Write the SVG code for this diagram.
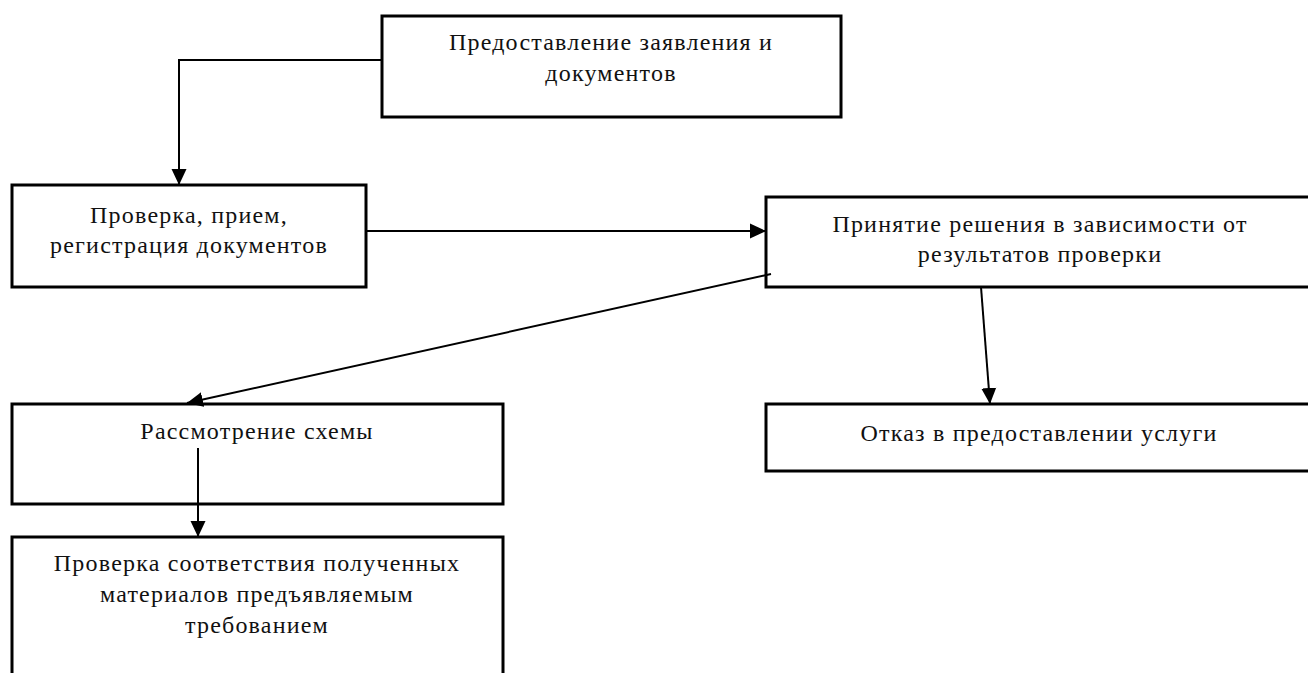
<svg xmlns="http://www.w3.org/2000/svg" width="1308" height="673" viewBox="0 0 1308 673">
  <defs>
    <marker id="arrow" viewBox="0 0 16 16" refX="16" refY="8" markerWidth="16" markerHeight="16" markerUnits="userSpaceOnUse" orient="auto">
      <path d="M0,0.5 L16,8 L0,15.5 z" fill="#000"/>
    </marker>
    <style>
      .box { fill: #fff; stroke: #000; stroke-width: 3; }
      .lbl { font-family: "Liberation Serif", "Times New Roman", serif; font-size: 24px; letter-spacing: 1.2px; fill: #111; text-anchor: middle; }
      .conn { fill: none; stroke: #000; stroke-width: 2; marker-end: url(#arrow); }
    </style>
  </defs>
  <rect width="1308" height="673" fill="#fff"/>

  <g id="n1">
    <rect class="box" x="382" y="16" width="459" height="101"/>
    <text class="lbl" x="611" y="50">Предоставление заявления и</text>
    <text class="lbl" x="611" y="81">документов</text>
  </g>
  <g id="n2">
    <rect class="box" x="12" y="185" width="354" height="102"/>
    <text class="lbl" x="189" y="223">Проверка, прием,</text>
    <text class="lbl" x="189" y="253">регистрация документов</text>
  </g>
  <g id="n3">
    <rect class="box" x="766" y="197" width="546" height="90"/>
    <text class="lbl" x="1040" y="232">Принятие решения в зависимости от</text>
    <text class="lbl" x="1040" y="262">результатов проверки</text>
  </g>
  <g id="n4">
    <rect class="box" x="12" y="404" width="491" height="100"/>
    <text class="lbl" x="257" y="439">Рассмотрение схемы</text>
  </g>
  <g id="n5">
    <rect class="box" x="766" y="404" width="546" height="67"/>
    <text class="lbl" x="1039" y="441">Отказ в предоставлении услуги</text>
  </g>
  <g id="n6">
    <rect class="box" x="12" y="537" width="491" height="150"/>
    <text class="lbl" x="257" y="571">Проверка соответствия полученных</text>
    <text class="lbl" x="257" y="602">материалов предъявляемым</text>
    <text class="lbl" x="257" y="633">требованием</text>
  </g>

  <g id="connectors">
    <path class="conn" d="M382,60 L179,60 L179,185"/>
    <path class="conn" d="M366,231 L766,231"/>
    <path class="conn" d="M771,274 L187,403"/>
    <path class="conn" d="M981,287 L990,404"/>
    <path class="conn" d="M198,448 L198,537"/>
  </g>
</svg>
